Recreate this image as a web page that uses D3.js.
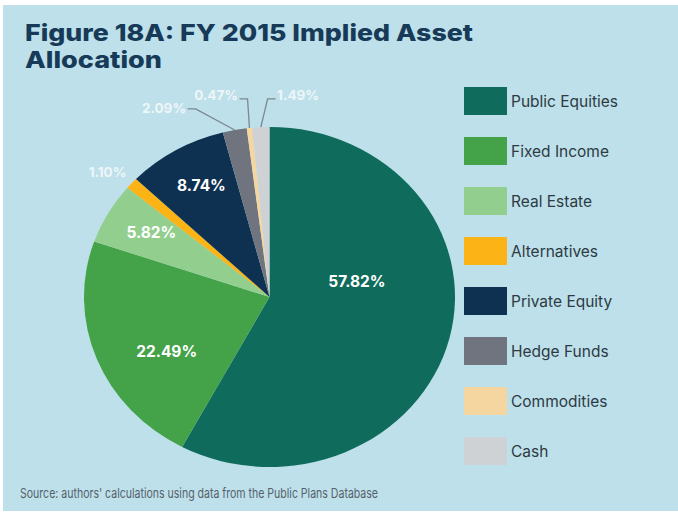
<!DOCTYPE html>
<html>
<head>
<meta charset="utf-8">
<script src="https://cdn.jsdelivr.net/npm/d3@7"></script>
<style>
  body { margin: 0; background: #ffffff; }
  svg text { font-family: Inter, "Open Sans", sans-serif; }
</style>
</head>
<body>
<div id="chart"></div>
<script>
// chart values
const categories = ["Public Equities", "Fixed Income", "Real Estate", "Alternatives",
                    "Private Equity", "Hedge Funds", "Commodities", "Cash"];
const shares = [57.82, 22.49, 5.82, 1.10, 8.74, 2.09, 0.47, 1.49];
const sliceColors = ["#0f6b5c", "#44a348", "#92cf8f", "#fbb316",
                     "#0e3152", "#6f747f", "#f6d6a0", "#cfd2d5"];

// where each percentage sits: angle in degrees (clockwise from top) and fraction of radius
// leader: -1 = text to the left of the elbow, 1 = to the right
const labelPlace = [
  { a: 79,    r: 0.48 },
  { a: 240,   r: 0.64 },
  { a: 300.6, r: 0.74 },
  { a: 310.3, r: 1.145, outside: true },
  { a: 330.7, r: 0.75 },
  { a: 340.2, r: 1.176, leader: -1, dy: 4.5 },
  { a: 354.2, r: 1.171, leader: -1, dy: 1 },
  { a: 359.5, r: 1.165, leader: 1, dy: 1 }
];

const W = 678, H = 518;
const svg = d3.select("#chart").append("svg")
  .attr("width", W)
  .attr("height", H);

// panel background
svg.append("rect")
  .attr("x", 3).attr("y", 5)
  .attr("width", W - 3).attr("height", 506)
  .attr("fill", "#bde0ea");

// title
svg.append("text")
  .attr("x", 25).attr("y", 41)
  .attr("textLength", 448).attr("lengthAdjust", "spacingAndGlyphs")
  .style("font-size", "23.5px").style("font-weight", 800)
  .attr("fill", "#163a57")
  .text("Figure 18A: FY 2015 Implied Asset");
svg.append("text")
  .attr("x", 25).attr("y", 68)
  .attr("textLength", 137).attr("lengthAdjust", "spacingAndGlyphs")
  .style("font-size", "23.5px").style("font-weight", 800)
  .attr("fill", "#163a57")
  .text("Allocation");

// pie (the picture is stretched a little sideways, so x is scaled)
const cx = 269.5, cy = 297, ry = 170, rx = 185.5;
const sx = rx / ry;

const pie = d3.pie().sort(null).value(d => d);
const arcs = pie(shares);
const arc = d3.arc().innerRadius(0).outerRadius(ry);

svg.append("g")
  .attr("transform", `translate(${cx},${cy}) scale(${sx},1)`)
  .selectAll("path")
  .data(arcs)
  .join("path")
  .attr("d", arc)
  .attr("fill", (d, i) => sliceColors[i]);

function polar(deg, r) {
  const t = deg * Math.PI / 180;
  return [cx + rx * r * Math.sin(t), cy - ry * r * Math.cos(t)];
}

const fmt = v => v.toFixed(2) + "%";
const labelLayer = svg.append("g");

arcs.forEach((d, i) => {
  const p = labelPlace[i];
  const [x, y] = polar(p.a, p.r);
  if (p.leader) {
    const mid = (d.startAngle + d.endAngle) / 2 * 180 / Math.PI;
    const [x0, y0] = polar(mid, 1.0);
    const x2 = x + p.leader * 8;
    labelLayer.append("polyline")
      .attr("points", `${x0},${y0} ${x},${y} ${x2},${y}`)
      .attr("fill", "none")
      .attr("stroke", "#7d878d")
      .attr("stroke-width", 1.3);
    labelLayer.append("text")
      .attr("x", x2 + p.leader * 1.5)
      .attr("y", y + p.dy)
      .attr("text-anchor", p.leader < 0 ? "end" : "start")
      .style("font-size", "13.5px").style("font-weight", 700)
      .attr("fill", "#eef6f8")
      .text(fmt(shares[i]));
  } else {
    labelLayer.append("text")
      .attr("x", x)
      .attr("y", y + 5.5)
      .attr("text-anchor", "middle")
      .style("font-size", p.outside ? "13.5px" : "15.5px").style("font-weight", 700)
      .attr("fill", p.outside ? "#eef6f8" : "#ffffff")
      .text(fmt(shares[i]));
  }
});

// legend
const legend = svg.append("g").attr("transform", "translate(464,87)");
categories.forEach((c, i) => {
  const row = legend.append("g").attr("transform", `translate(0,${i * 50})`);
  row.append("rect")
    .attr("width", 43).attr("height", 28)
    .attr("fill", sliceColors[i]);
  row.append("text")
    .attr("x", 47).attr("y", 20)
    .style("font-size", "15.5px")
    .attr("fill", "#2e3a42")
    .text(c);
});

// source note
svg.append("text")
  .attr("x", 20).attr("y", 498)
  .attr("textLength", 358).attr("lengthAdjust", "spacingAndGlyphs")
  .style("font-size", "13.5px")
  .attr("fill", "#56616a")
  .text("Source: authors' calculations using data from the Public Plans Database");
</script>
</body>
</html>
